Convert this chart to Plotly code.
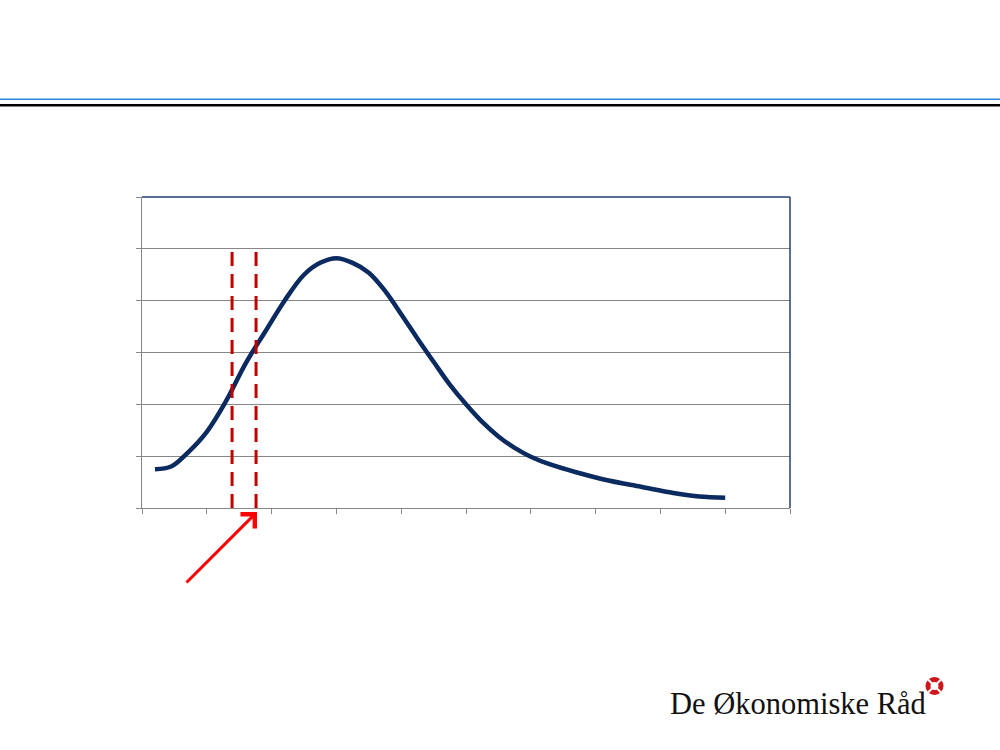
import plotly.graph_objects as go

# Curve data (x in category units 0..10, y in gridline units 0..6)
curve_x = [0.20, 0.45, 0.70, 1.00, 1.30, 1.60, 1.90, 2.20, 2.50, 2.75, 3.00,
           3.25, 3.50, 3.75, 4.00, 4.25, 4.50, 4.75, 5.00, 5.25, 5.50, 5.75,
           6.00, 6.30, 6.70, 7.20, 7.70, 8.20, 8.60, 9.00]
curve_y = [0.75, 0.80, 1.06, 1.47, 2.07, 2.79, 3.40, 4.00, 4.50, 4.73, 4.82,
           4.73, 4.54, 4.19, 3.74, 3.27, 2.82, 2.38, 2.00, 1.66, 1.38, 1.16,
           0.99, 0.84, 0.69, 0.53, 0.41, 0.29, 0.22, 0.20]
marker_lines_x = [1.39, 1.76]
marker_top = 5
x_range = [0, 10]
y_range = [0, 6]
logo_text = "De Økonomiske Råd"

L, R, T, B = 142, 790, 197, 508
W, H = 1000, 750
pw, ph = R - L, B - T

def px(x):
    return (x - L) / pw

def py(y):
    return (B - y) / ph

fig = go.Figure()
fig.add_trace(go.Scatter(x=curve_x, y=curve_y, mode="lines",
                         line=dict(color="#0B2A60", width=4.5, shape="spline", smoothing=1.0),
                         hoverinfo="skip", showlegend=False))
for mx in marker_lines_x:
    fig.add_trace(go.Scatter(x=[mx, mx], y=[y_range[0], marker_top], mode="lines",
                             line=dict(color="#C00000", width=3, dash="14px,8px"),
                             hoverinfo="skip", showlegend=False))

shapes = [
    # top and right plot border
    dict(type="line", xref="paper", yref="paper", x0=0, x1=1, y0=1, y1=1,
         line=dict(color="#243F73", width=1.5)),
    dict(type="line", xref="paper", yref="paper", x0=1, x1=1, y0=0, y1=1,
         line=dict(color="#243F73", width=1.5)),
    # header lines
    dict(type="line", xref="paper", yref="paper", x0=px(0), x1=px(1000), y0=py(99.3), y1=py(99.3),
         line=dict(color="#2A86DA", width=1.6)),
    dict(type="line", xref="paper", yref="paper", x0=px(0), x1=px(1000), y0=py(105.2), y1=py(105.2),
         line=dict(color="#000000", width=2.6)),
    # logo emblem
    dict(type="circle", xref="paper", yref="paper",
         x0=px(934.5 - 6.5), x1=px(934.5 + 6.5), y0=py(686 + 6.5), y1=py(686 - 6.5),
         line=dict(color="#D0151C", width=5), fillcolor="rgba(0,0,0,0)"),
    dict(type="line", xref="paper", yref="paper",
         x0=px(925), x1=px(944), y0=py(676.5), y1=py(695.5), line=dict(color="white", width=2)),
    dict(type="line", xref="paper", yref="paper",
         x0=px(925), x1=px(944), y0=py(695.5), y1=py(676.5), line=dict(color="white", width=2)),
]

annotations = [
    dict(x=px(257), y=py(512), xref="paper", yref="paper", ax=-72, ay=72,
         showarrow=True, arrowhead=4, arrowsize=1.3, arrowwidth=3, arrowcolor="#FF0000", text=""),
    dict(x=px(668), y=py(704), xref="paper", yref="paper", xanchor="left", yanchor="middle",
         text=logo_text, showarrow=False,
         font=dict(family="Liberation Serif", size=30.5, color="#111111")),
]

fig.update_layout(
    width=W, height=H,
    margin=dict(l=L, r=W - R, t=T, b=H - B, pad=0),
    paper_bgcolor="white", plot_bgcolor="white",
    shapes=shapes, annotations=annotations,
    xaxis=dict(range=x_range, dtick=1, tick0=0, showgrid=False, showticklabels=False,
               ticks="outside", ticklen=5, tickcolor="#878787", showline=True,
               linecolor="#878787", linewidth=1, zeroline=False, fixedrange=True),
    yaxis=dict(range=y_range, dtick=1, tick0=0, showgrid=True, gridcolor="#878787", gridwidth=1,
               showticklabels=False, ticks="outside", ticklen=5, tickcolor="#878787",
               showline=True, linecolor="#878787", linewidth=1, zeroline=False, fixedrange=True),
)

fig.write_html("out.html", config={"displayModeBar": False},
               post_script="document.body.style.margin='0';document.body.style.overflow='hidden';")
